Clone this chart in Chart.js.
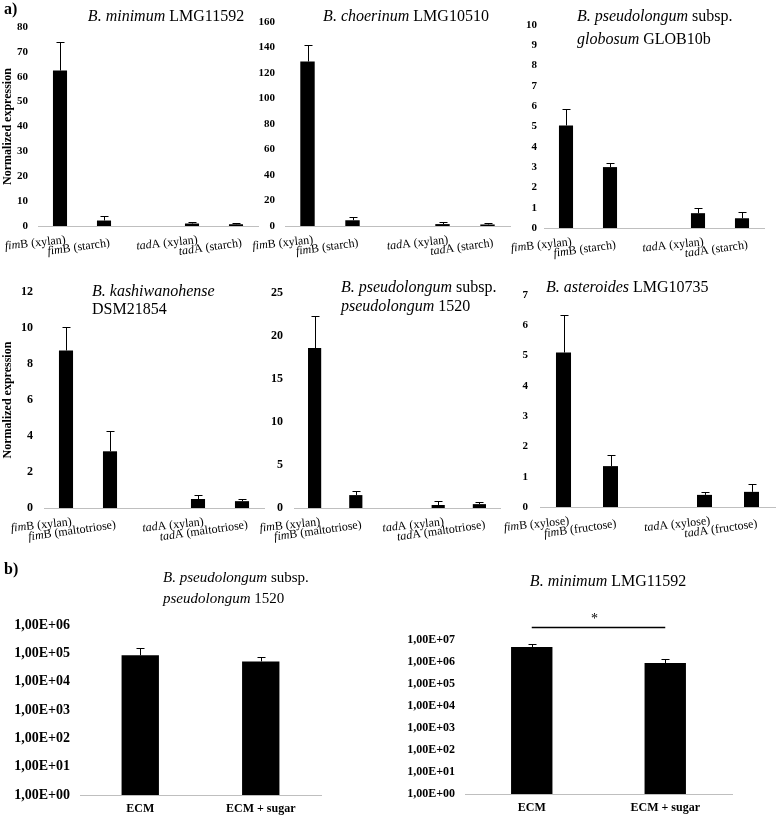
<!DOCTYPE html>
<html>
<head>
<meta charset="utf-8">
<script src="https://cdn.jsdelivr.net/npm/chart.js@4.4.1/dist/chart.umd.min.js"></script>
<style>
  body { margin: 0; background: #fff; width: 777px; height: 815px; position: relative; overflow: hidden; }
  canvas { position: absolute; }
</style>
</head>
<body>
<canvas id="a1"></canvas>
<canvas id="a2"></canvas>
<canvas id="a3"></canvas>
<canvas id="a4"></canvas>
<canvas id="a5"></canvas>
<canvas id="a6"></canvas>
<canvas id="b1"></canvas>
<canvas id="b2"></canvas>
<script>
// --- data ---
const starchLabels = ['fimB (xylan)', 'fimB (starch)', '', 'tadA (xylan)', 'tadA (starch)'];
const maltoLabels = ['fimB (xylan)', 'fimB (maltotriose)', '', 'tadA (xylan)', 'tadA (maltotriose)'];
const sugarLabels = ['fimB (xylose)', 'fimB (fructose)', '', 'tadA (xylose)', 'tadA (fructose)'];
const ecmLabels = ['ECM', 'ECM + sugar'];

const minimumValues = [62.5, 2.2, null, 1.0, 0.7];
const minimumErrors = [11.5, 1.8, null, 0.8, 0.5];
const choerinumValues = [129, 4.5, null, 1.5, 1.2];
const choerinumErrors = [13, 2.5, null, 1.3, 1.0];
const globosumValues = [5.05, 3.0, null, 0.73, 0.48];
const globosumErrors = [0.8, 0.22, null, 0.25, 0.32];
const kashiwaValues = [8.75, 3.15, null, 0.5, 0.38];
const kashiwaErrors = [1.3, 1.1, null, 0.2, 0.1];
const pseudoValues = [18.6, 1.5, null, 0.35, 0.45];
const pseudoErrors = [3.7, 0.5, null, 0.45, 0.25];
const asteroidesValues = [5.1, 1.35, null, 0.4, 0.5];
const asteroidesErrors = [1.25, 0.38, null, 0.1, 0.25];

const ecmPseudoValues = [85000, 52000];
const ecmPseudoErrors = [65000, 20000];
const ecmMinimumValues = [4.8e6, 9.0e5];
const ecmMinimumErrors = [1.8e6, 5.0e5];

const serif = "'Liberation Serif', 'Times New Roman', serif";

// draw a line of mixed italic / upright text
function drawRuns(ctx, runs, x, y, size, align, weight) {
  const fonts = runs.map(r => (r[1] ? 'italic ' : '') + (weight || '') + ' ' + size + 'px ' + serif);
  let total = 0;
  const widths = runs.map((r, i) => { ctx.font = fonts[i]; const w = ctx.measureText(r[0]).width; total += w; return w; });
  let cx = align === 'center' ? x - total / 2 : align === 'right' ? x - total : x;
  ctx.textAlign = 'left';
  runs.forEach((r, i) => { ctx.font = fonts[i]; ctx.fillText(r[0], cx, y); cx += widths[i]; });
}

function panel(id, area, pads, cfg) {
  const [l, t, r, b] = area;
  const [yW, pt, pr, pb] = pads;
  const left = l - yW, top = t - pt;
  const cv = document.getElementById(id);
  cv.width = r + pr - left;
  cv.height = b + pb - top;
  cv.style.left = left + 'px';
  cv.style.top = top + 'px';

  const extras = {
    id: 'extras_' + id,
    afterDatasetsDraw(chart) {
      const ctx = chart.ctx;
      const meta = chart.getDatasetMeta(0);
      const ys = chart.scales.y;
      ctx.save();
      ctx.strokeStyle = '#000';
      ctx.lineWidth = 1;
      cfg.values.forEach((v, i) => {
        if (v == null) return;
        const x = Math.round(meta.data[i].x) + 0.5;
        const y0 = ys.getPixelForValue(v);
        const y1 = Math.round(ys.getPixelForValue(v + cfg.errors[i])) + 0.5;
        ctx.beginPath();
        ctx.moveTo(x, y0); ctx.lineTo(x, y1);
        ctx.moveTo(x - 4, y1); ctx.lineTo(x + 4, y1);
        ctx.stroke();
      });
      ctx.restore();
    },
    afterDraw(chart) {
      const ctx = chart.ctx;
      const xs = chart.scales.x;
      ctx.save();
      ctx.fillStyle = '#000';
      ctx.textBaseline = 'middle';
      // titles, given in page coordinates
      cfg.title.lines.forEach(line => {
        drawRuns(ctx, line.runs, cfg.title.x - left, line.y - top, cfg.title.size, cfg.title.align);
      });
      (cfg.notes || []).forEach(n => {
        ctx.font = n.font;
        ctx.textAlign = 'left';
        ctx.fillText(n.text, n.x - left, n.y - top);
      });
      // slanted gene labels with italic gene names
      if (cfg.geneLabels) {
        const axisY = chart.chartArea.bottom;
        ctx.textBaseline = 'top';
        cfg.labels.forEach((lab, i) => {
          if (!lab) return;
          const odd = i === 1 || i === 4;
          ctx.save();
          ctx.translate(xs.getPixelForTick(i) + 5, axisY + (odd ? 11 : 8));
          ctx.rotate((odd ? -8 : -6) * Math.PI / 180);
          drawRuns(ctx, [[lab.slice(0, 3), true], [lab.slice(3), false]], 0, 0, 12, 'right');
          ctx.restore();
        });
      }
      // significance bar
      if (cfg.signif) {
        const x0 = xs.getPixelForTick(0), x1 = xs.getPixelForTick(1);
        const y = chart.chartArea.top - 12.5;
        ctx.strokeStyle = '#000';
        ctx.lineWidth = 1.5;
        ctx.beginPath(); ctx.moveTo(x0, y); ctx.lineTo(x1, y); ctx.stroke();
        ctx.font = '14px ' + serif;
        ctx.textAlign = 'center';
        ctx.textBaseline = 'middle';
        ctx.fillText('*', (x0 + x1) / 2 - 4, y - 8);
      }
      ctx.restore();
    }
  };

  const yScale = cfg.log ? {
    type: 'logarithmic',
    min: 1,
    max: cfg.max,
    afterBuildTicks: s => {
      const ticks = [];
      for (let v = 1; v <= cfg.max; v *= 10) ticks.push({ value: v });
      s.ticks = ticks;
    },
    ticks: {
      color: '#000',
      padding: 10,
      autoSkip: false,
      font: { family: serif, size: cfg.tickSize, weight: 'bold' },
      callback: v => '1,00E+' + String(Math.round(Math.log10(v))).padStart(2, '0')
    }
  } : {
    min: 0,
    max: cfg.max,
    ticks: {
      stepSize: cfg.step,
      color: '#000',
      padding: cfg.tickPad,
      font: { family: serif, size: cfg.tickSize, weight: 'bold' }
    }
  };
  yScale.grid = { display: false, drawTicks: false };
  yScale.border = { display: false };
  yScale.afterFit = s => { s.width = yW; };
  if (cfg.yTitle) {
    yScale.title = {
      display: true,
      text: 'Normalized expression',
      color: '#000',
      padding: { top: 1, bottom: 0 },
      font: { family: serif, size: 12, weight: 'bold' }
    };
  }

  return new Chart(cv, {
    type: 'bar',
    data: {
      labels: cfg.labels,
      datasets: [{
        data: cfg.values,
        backgroundColor: '#000',
        borderWidth: 0,
        barPercentage: cfg.barPct,
        categoryPercentage: 1
      }]
    },
    options: {
      responsive: false,
      animation: false,
      devicePixelRatio: 1,
      layout: { padding: { left: 0, top: pt, right: pr, bottom: 0 } },
      plugins: { legend: { display: false }, tooltip: { enabled: false } },
      scales: {
        x: {
          grid: { display: false, drawTicks: false },
          border: { display: true, color: '#bfbfbf', width: 1 },
          ticks: cfg.geneLabels ? { display: false } : {
            color: '#000',
            padding: 7,
            maxRotation: 0,
            font: { family: serif, size: 12, weight: 'bold' }
          },
          afterFit: s => { s.height = pb; }
        },
        y: yScale
      }
    },
    plugins: [extras]
  });
}

panel('a1', [38, 27, 258, 226], [38, 27, 4, 36], {
  labels: starchLabels, values: minimumValues, errors: minimumErrors,
  max: 80, step: 10, tickSize: 11, tickPad: 10, barPct: 0.32, geneLabels: true, yTitle: true,
  title: { x: 166, align: 'center', size: 16, lines: [{ y: 17, runs: [['B. minimum', true], [' LMG11592', false]] }] },
  notes: [{ text: 'a)', x: 4, y: 10, font: 'bold 16px ' + serif }]
});

panel('a2', [285, 22, 510, 226], [40, 22, 4, 36], {
  labels: starchLabels, values: choerinumValues, errors: choerinumErrors,
  max: 160, step: 20, tickSize: 11, tickPad: 10, barPct: 0.32, geneLabels: true,
  title: { x: 406, align: 'center', size: 16, lines: [{ y: 17, runs: [['B. choerinum', true], [' LMG10510', false]] }] }
});

panel('a3', [544, 25, 764, 228], [34, 25, 13, 34], {
  labels: starchLabels, values: globosumValues, errors: globosumErrors,
  max: 10, step: 1, tickSize: 11, tickPad: 7, barPct: 0.32, geneLabels: true,
  title: { x: 577, align: 'left', size: 16, lines: [
    { y: 17, runs: [['B. pseudolongum', true], [' subsp.', false]] },
    { y: 40, runs: [['globosum', true], [' GLOB10b', false]] }
  ] }
});

panel('a4', [44, 292, 264, 508], [44, 27, 4, 37], {
  labels: maltoLabels, values: kashiwaValues, errors: kashiwaErrors,
  max: 12, step: 2, tickSize: 12, tickPad: 11, barPct: 0.32, geneLabels: true, yTitle: true,
  title: { x: 92, align: 'left', size: 16, lines: [
    { y: 292, runs: [['B. kashiwanohense', true]] },
    { y: 310, runs: [['DSM21854', false]] }
  ] }
});

panel('a5', [294, 293, 500, 508], [40, 28, 4, 37], {
  labels: maltoLabels, values: pseudoValues, errors: pseudoErrors,
  max: 25, step: 5, tickSize: 12, tickPad: 11, barPct: 0.32, geneLabels: true,
  title: { x: 341, align: 'left', size: 16, lines: [
    { y: 288, runs: [['B. pseudolongum', true], [' subsp.', false]] },
    { y: 307, runs: [['pseudolongum', true], [' 1520', false]] }
  ] }
});

panel('a6', [540, 295, 775, 507], [36, 30, 2, 38], {
  labels: sugarLabels, values: asteroidesValues, errors: asteroidesErrors,
  max: 7, step: 1, tickSize: 11, tickPad: 12, barPct: 0.32, geneLabels: true,
  title: { x: 546, align: 'left', size: 16, lines: [{ y: 288, runs: [['B. asteroides', true], [' LMG10735', false]] }] }
});

panel('b1', [80, 625, 321, 795], [80, 70, 69, 20], {
  labels: ecmLabels, values: ecmPseudoValues, errors: ecmPseudoErrors,
  log: true, max: 1e6, tickSize: 14, barPct: 0.31,
  title: { x: 163, align: 'left', size: 15, lines: [
    { y: 578, runs: [['B. pseudolongum', true], [' subsp.', false]] },
    { y: 599, runs: [['pseudolongum', true], [' 1520', false]] }
  ] },
  notes: [{ text: 'b)', x: 4, y: 570, font: 'bold 16px ' + serif }]
});

panel('b2', [465, 640, 732, 794], [75, 90, 45, 21], {
  labels: ecmLabels, values: ecmMinimumValues, errors: ecmMinimumErrors,
  log: true, max: 1e7, tickSize: 12, barPct: 0.31, signif: true,
  title: { x: 608, align: 'center', size: 16, lines: [{ y: 582, runs: [['B. minimum', true], [' LMG11592', false]] }] }
});
</script>
</body>
</html>
